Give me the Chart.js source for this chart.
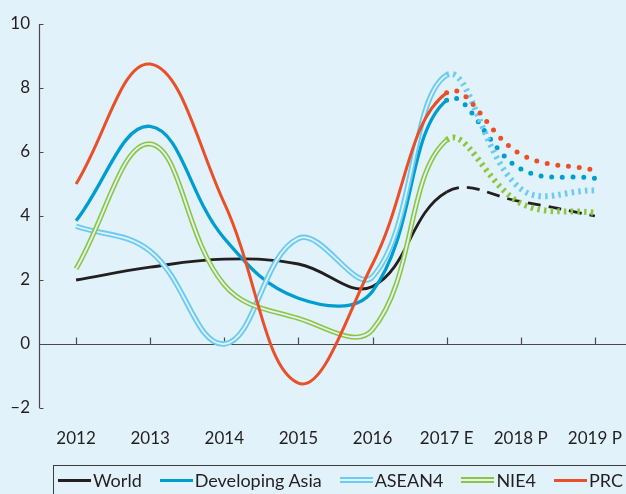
<!DOCTYPE html>
<html>
<head>
<meta charset="utf-8">
<script src="https://cdn.jsdelivr.net/npm/chart.js@4/dist/chart.umd.min.js"></script>
<style>
  html, body { margin: 0; padding: 0; background: #e1f2fa; }
  #wrap { position: relative; width: 626px; height: 494px; overflow: hidden; }
  #legend {
    position: absolute; left: 53px; top: 465px; width: 600px; height: 40px;
    border: 1.5px solid #3d3d3f; box-sizing: border-box;
    display: flex; align-items: center; gap: 18px;
    padding: 0 0 10px 4px;
    font: 18px Lato, sans-serif; color: #231f20;
  }
  .item { display: flex; align-items: center; white-space: nowrap; }
  .swatch { width: 33px; margin-right: 2px; }
  .solid { height: 3px; }
  .double { height: 2px; border-top: 2px solid; border-bottom: 2px solid; background: #e1f2fa; }
</style>
</head>
<body>
<div id="wrap">
  <canvas id="grafico"></canvas>
  <div id="legend"></div>
</div>
<script>
const anos = ['2012', '2013', '2014', '2015', '2016', '2017 E', '2018 P', '2019 P'];
const world = [2.0, 2.4, 2.65, 2.5, 1.8, 4.75, 4.45, 4.0];
const devAsia = [3.85, 6.8, 3.3, 1.43, 1.65, 7.62, 5.47, 5.18];
const asean4 = [3.68, 2.9, 0.0, 3.3, 2.1, 8.4, 4.85, 4.8];
const nie4 = [2.35, 6.25, 1.85, 0.8, 0.45, 6.37, 4.4, 4.1];
const prc = [5.0, 8.75, 4.4, -1.22, 2.5, 7.85, 5.93, 5.43];
const yTicks = [-2, 0, 2, 4, 6, 8, 10];

const fundo = '#e1f2fa';
const corWorld = '#231f20', corAsia = '#009dd1', corAsean = '#6ccbf0', corNie = '#8cc63f', corPrc = '#e9502a';
const inicioProj = 5; // 2017 E onward is estimate/projection

const pontos = arr => arr.map((v, i) => ({ x: i, y: v }));
const proj = (aqui, antes) => ctx => ctx.p0DataIndex >= inicioProj ? aqui : antes;

const marcasEixo = {
    id: 'marcasEixo',
    beforeDatasetsDraw(chart) {
        const { ctx, chartArea, scales: { x, y } } = chart;
        ctx.save();
        ctx.strokeStyle = '#4a4a4c';
        ctx.lineWidth = 1.2;
        const y0 = Math.round(y.getPixelForValue(0)) + 0.5;
        const xl = Math.round(chartArea.left) + 0.5;
        ctx.beginPath();
        ctx.moveTo(xl, chartArea.top);
        ctx.lineTo(xl, chartArea.bottom);
        ctx.moveTo(chartArea.left, y0);
        ctx.lineTo(chartArea.right, y0);
        x.ticks.forEach(t => {
            const px = Math.round(x.getPixelForValue(t.value)) + 0.5;
            ctx.moveTo(px, y0);
            ctx.lineTo(px, y0 - 7);
        });
        y.ticks.forEach(t => {
            const py = Math.round(y.getPixelForValue(t.value)) + 0.5;
            ctx.moveTo(xl, py);
            ctx.lineTo(xl + 4, py);
        });
        ctx.stroke();
        ctx.restore();
    }
};

const chart = new Chart(document.getElementById('grafico'), {
    type: 'line',
    data: {
        datasets: [
            { label: 'PRC', data: pontos(prc), borderColor: corPrc, borderWidth: 3, order: 0,
              segment: { borderDash: proj([0, 10.8], undefined), borderCapStyle: proj('round', 'butt'), borderWidth: proj(5, 3) } },
            { label: 'NIE4 inner', data: pontos(nie4), borderColor: fundo, borderWidth: 1.8, order: 1,
              segment: { borderColor: proj('rgba(0,0,0,0)', fundo) } },
            { label: 'NIE4', data: pontos(nie4), borderColor: corNie, borderWidth: 5, order: 2,
              segment: { borderDash: proj([2.5, 4.2], undefined), borderWidth: proj(6, 5) } },
            { label: 'ASEAN4 inner', data: pontos(asean4), borderColor: fundo, borderWidth: 1.8, order: 3,
              segment: { borderColor: proj('rgba(0,0,0,0)', fundo) } },
            { label: 'ASEAN4', data: pontos(asean4), borderColor: corAsean, borderWidth: 5.5, order: 4,
              segment: { borderDash: proj([2.5, 4.2], undefined), borderWidth: proj(6, 5.5) } },
            { label: 'Developing Asia', data: pontos(devAsia), borderColor: corAsia, borderWidth: 3.3, order: 5,
              segment: { borderDash: proj([0, 10.7], undefined), borderCapStyle: proj('round', 'butt'), borderWidth: proj(5, 3.3) } },
            { label: 'World', data: pontos(world), borderColor: corWorld, borderWidth: 2.8, order: 6,
              segment: { borderDash: proj([13, 8], undefined) } }
        ]
    },
    options: {
        responsive: true, maintainAspectRatio: false, animation: false,
        elements: { point: { radius: 0 }, line: { tension: 0.4 } },
        layout: { padding: { top: 24, right: 0, bottom: 41, left: 0 } },
        scales: {
            x: {
                type: 'linear', min: -0.5, max: 7.42,
                grid: { display: false, drawTicks: false }, border: { display: false },
                afterBuildTicks: s => { s.ticks = anos.map((_, i) => ({ value: i })); },
                afterFit: s => { s.height = 45; s.paddingLeft = 0; s.paddingRight = 0; },
                ticks: { padding: 20, autoSkip: false, maxRotation: 0, color: '#231f20',
                         font: { family: 'Lato', size: 17 }, callback: v => anos[v] ?? '' }
            },
            y: {
                min: -2, max: 10,
                grid: { display: false, drawTicks: false }, border: { display: false },
                afterBuildTicks: s => { s.ticks = yTicks.map(v => ({ value: v })); },
                afterFit: s => { s.width = 39; s.paddingTop = 0; s.paddingBottom = 0; },
                ticks: { padding: 9, color: '#231f20', font: { family: 'Lato', size: 17 },
                         callback: v => String(v).replace('-', '\u2013') }
            }
        },
        plugins: { legend: { display: false }, tooltip: { enabled: false } }
    },
    plugins: [marcasEixo]
});

const itensLegenda = [
    ['World', corWorld, 'solid'],
    ['Developing Asia', corAsia, 'solid'],
    ['ASEAN4', corAsean, 'double'],
    ['NIE4', corNie, 'double'],
    ['PRC', corPrc, 'solid']
];
document.getElementById('legend').innerHTML = itensLegenda.map(([nome, cor, tipo]) =>
    `<div class="item"><div class="swatch ${tipo}" style="${tipo === 'solid' ? 'background' : 'border-color'}:${cor}"></div>${nome}</div>`
).join('');
</script>
</body>
</html>
